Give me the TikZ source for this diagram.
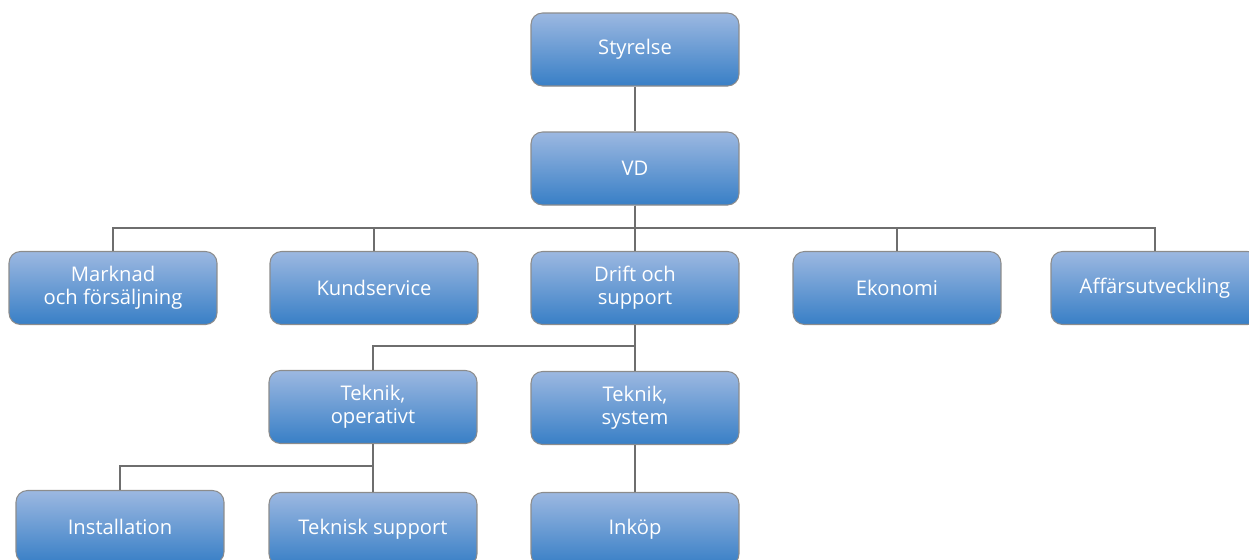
\documentclass[tikz,border=0pt]{standalone}
\usepackage{fontspec}
\setmainfont{Open Sans}
\usepackage{tikz}
\usetikzlibrary{calc,positioning}
\definecolor{boxtop}{RGB}{156,184,225}
\definecolor{boxbot}{RGB}{56,127,198}
\definecolor{boxline}{RGB}{140,140,140}
\definecolor{connline}{RGB}{110,110,110}

\tikzset{
    orgbox/.style={rectangle, rounded corners=6.5pt, draw=boxline, line width=0.6pt,
        top color=boxtop, bottom color=boxbot, minimum width=4.16cm, minimum height=1.46cm,
        text=white, align=center, inner sep=2pt,
        font=\fontsize{11.5}{13.3}\selectfont},
    conn/.style={draw=connline, line width=0.7pt}
}

\begin{document}
\begin{tikzpicture}[x=0.02cm, y=-0.02cm]
        \useasboundingbox (0,0) rectangle (1249,559);
        \clip (0,0) rectangle (1249,559);

        % Top levels
        \node[orgbox] (styrelse) at (635,49.5) {Styrelse};
        \node[orgbox] (vd) at (635,168.5) {VD};

        % Departments
        \node[orgbox] (marknad) at (113,288) {Marknad\\och försäljning};
        \node[orgbox] (kund) at (374,288) {Kundservice};
        \node[orgbox] (drift) at (635,288) {Drift och\\support};
        \node[orgbox] (ekonomi) at (897,288) {Ekonomi};
        \node[orgbox] (affar) at (1155,288) {Affärsutveckling};

        % Under Drift och support
        \node[orgbox] (tekop) at (373,407) {Teknik,\\operativt};
        \node[orgbox] (teksys) at (635,408) {Teknik,\\system};

        % Bottom row
        \node[orgbox] (install) at (120,527) {Installation};
        \node[orgbox] (teksup) at (373,529) {Teknisk support};
        \node[orgbox] (inkop) at (635,529) {Inköp};

        % Bus levels
        \coordinate (busA) at (0,228);
        \coordinate (busB) at (0,346);
        \coordinate (busC) at (0,466);

        % Connectors
        \draw[conn] (styrelse.south) -- (vd.north);
        \foreach \dep in {marknad,kund,drift,ekonomi,affar}
            \draw[conn] (vd.south) -- (vd.south |- busA) -| (\dep.north);
        \draw[conn] (drift.south) -- (drift.south |- busB) -| (tekop.north);
        \draw[conn] (drift.south) -- (teksys.north);
        \draw[conn] (tekop.south) -- (tekop.south |- busC) -| (install.north);
        \draw[conn] (tekop.south) -- (teksup.north);
        \draw[conn] (teksys.south) -- (inkop.north);
    \end{tikzpicture}
\end{document}
